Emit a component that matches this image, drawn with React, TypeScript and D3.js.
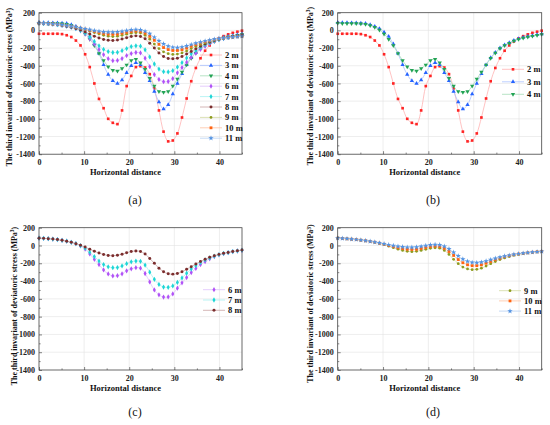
import * as React from "react";
import * as d3 from "d3";

// horizontal positions of the nodes
const xs = [
  0, 1.02, 2.05, 3.07, 4.09, 5.11, 6.14, 7.16, 8.18, 9.2, 10.23, 11.25, 12.27,
  13.3, 14.32, 15.34, 16.36, 17.39, 18.41, 19.43, 20.45, 21.48, 22.5, 23.52,
  24.55, 25.57, 26.59, 27.61, 28.64, 29.66, 30.68, 31.7, 32.73, 33.75, 34.77,
  35.8, 36.82, 37.84, 38.86, 39.89, 40.91, 41.93, 42.95, 43.98, 45,
];

const depths = ["2 m", "3 m", "4 m", "6 m", "7 m", "8 m", "9 m", "10 m", "11 m"];

const s2m = [
  -38, -38, -38, -38, -38, -42, -55, -75, -115, -170, -270, -415, -600, -775,
  -880, -1000, -1045, -1060, -905, -630, -515, -415, -405, -420, -495, -655,
  -905, -1145, -1255, -1245, -1165, -985, -770, -575, -425, -315, -230, -170,
  -125, -90, -65, -45, -28, -15, -3,
];
const s3m = [
  88, 87, 86, 85, 84, 82, 78, 65, 45, 20, -20, -70, -155, -260, -390, -500,
  -570, -600, -560, -480, -400, -365, -390, -480, -570, -690, -810, -890, -840,
  -720, -600, -490, -390, -310, -250, -200, -165, -140, -115, -95, -80, -70,
  -60, -50, -40,
];
const s4m = [
  80, 79, 78, 78, 77, 75, 70, 55, 35, 5, -40, -100, -170, -260, -340, -410,
  -450, -460, -430, -390, -340, -325, -365, -440, -540, -630, -690, -700, -690,
  -630, -550, -470, -390, -315, -255, -205, -170, -145, -120, -100, -85, -75,
  -65, -55, -45,
];
const s6m = [
  82, 80, 77, 72, 66, 58, 48, 36, 20, -5, -40, -95, -155, -215, -275, -320,
  -342, -340, -318, -285, -262, -250, -255, -315, -410, -500, -555, -580, -578,
  -545, -480, -420, -360, -305, -258, -215, -180, -150, -125, -105, -92, -80,
  -70, -62, -55,
];
const s7m = [
  82, 80, 77, 72, 66, 58, 48, 36, 20, -2, -30, -75, -125, -175, -215, -240,
  -250, -248, -230, -205, -183, -175, -178, -220, -300, -380, -438, -467, -470,
  -455, -415, -365, -312, -265, -225, -192, -162, -140, -120, -103, -90, -79,
  -69, -61, -53,
];
const s8m = [
  82, 80, 77, 72, 66, 58, 48, 36, 20, 3, -18, -42, -65, -85, -102, -112, -115,
  -110, -98, -82, -68, -62, -68, -95, -145, -200, -255, -295, -318, -322, -315,
  -295, -268, -238, -208, -180, -155, -133, -115, -100, -88, -78, -68, -60, -52,
];
const s9m = [
  82, 79, 75, 71, 66, 60, 53, 45, 36, 24, 10, -8, -25, -42, -56, -66, -70, -66,
  -56, -43, -32, -26, -30, -55, -100, -155, -205, -242, -263, -272, -268, -255,
  -232, -205, -180, -158, -140, -124, -110, -100, -92, -84, -78, -72, -67,
];
const s10m = [
  82, 79, 75, 71, 66, 60, 53, 45, 37, 26, 14, 1, -12, -25, -35, -42, -45, -42,
  -33, -22, -12, -7, -12, -32, -68, -112, -158, -194, -217, -227, -227, -218,
  -200, -180, -160, -142, -127, -115, -104, -95, -88, -82, -76, -71, -66,
];
const s11m = [
  83, 80, 76, 72, 67, 61, 54, 46, 38, 28, 18, 8, -2, -10, -16, -20, -21, -18,
  -11, -2, 6, 10, 6, -10, -38, -78, -118, -153, -178, -191, -194, -188, -175,
  -160, -145, -132, -120, -110, -100, -93, -87, -81, -76, -71, -66,
];

const seriesValues = [s2m, s3m, s4m, s6m, s7m, s8m, s9m, s10m, s11m];

const xTicks = [0, 10, 20, 30, 40];
const xMinor = [5, 15, 25, 35, 45];
const yTicks = [200, 0, -200, -400, -600, -800, -1000, -1200, -1400];
const yMinor = [100, -100, -300, -500, -700, -900, -1100, -1300];

const xTitle = "Horizontal distance";
const yTitle = "The third invariant of deviatoric stress (MPa";

const styles: Record<string, { dot: string; line: string; sym: d3.SymbolType; size: number }> = {
  "2 m": { dot: "#ff2424", line: "#ffb2b2", sym: d3.symbolSquare, size: 7 },
  "3 m": { dot: "#2563ff", line: "#abc2ff", sym: d3.symbolTriangle, size: 8 },
  "4 m": { dot: "#22a354", line: "#a6dcb8", sym: d3.symbolTriangle, size: 8 },
  "6 m": { dot: "#b152f7", line: "#dec0fb", sym: d3.symbolDiamond, size: 8 },
  "7 m": { dot: "#1ed6d6", line: "#a8f0f0", sym: d3.symbolDiamond, size: 8 },
  "8 m": { dot: "#7b2d2d", line: "#c9a3a3", sym: d3.symbolCircle, size: 7 },
  "9 m": { dot: "#8e9b1f", line: "#d2d9a1", sym: d3.symbolCircle, size: 6 },
  "10 m": { dot: "#ff6412", line: "#ffc3a2", sym: d3.symbolSquare, size: 8 },
  "11 m": { dot: "#5393e2", line: "#b9d2f2", sym: d3.symbolStar, size: 9 },
};

interface PanelProps {
  left: number;
  top: number;
  width: number;
  height: number;
  keys: string[];
  legendX: number;
  legendY: number;
  legendGap: number;
  label: string;
  labelX: number;
  labelY: number;
  titleX: number;
  titleY: number;
}

const FONT = "'Liberation Serif', 'Times New Roman', serif";

function Panel(p: PanelProps) {
  const ref = React.useRef<SVGGElement>(null);

  React.useEffect(() => {
    if (!ref.current) return;
    const g = d3.select(ref.current);
    g.selectAll("*").remove();

    const x = d3.scaleLinear().domain([0, 45]).range([p.left, p.left + p.width]);
    const y = d3.scaleLinear().domain([-1400, 200]).range([p.top + p.height, p.top]);

    // grid
    g.append("g")
      .selectAll("line")
      .data(xTicks.slice(1))
      .join("line")
      .attr("x1", (d) => x(d))
      .attr("x2", (d) => x(d))
      .attr("y1", p.top)
      .attr("y2", p.top + p.height)
      .attr("stroke", "#e2e2e2")
      .attr("stroke-width", 0.6);
    g.append("g")
      .selectAll("line")
      .data(yTicks.slice(1, -1))
      .join("line")
      .attr("x1", p.left)
      .attr("x2", p.left + p.width)
      .attr("y1", (d) => y(d))
      .attr("y2", (d) => y(d))
      .attr("stroke", "#e2e2e2")
      .attr("stroke-width", 0.6);

    // series
    p.keys.forEach((k) => {
      const vals = seriesValues[depths.indexOf(k)];
      const st = styles[k];
      const pts = xs.map((xv, i) => [xv, vals[i]] as [number, number]);
      g.append("path")
        .attr("fill", "none")
        .attr("stroke", st.line)
        .attr("stroke-width", 0.8)
        .attr(
          "d",
          d3
            .line<[number, number]>()
            .curve(d3.curveCatmullRom)
            .x((d) => x(d[0]))
            .y((d) => y(d[1]))(pts)
        );
      g.append("g")
        .selectAll("path")
        .data(pts)
        .join("path")
        .attr("transform", (d) => `translate(${x(d[0])},${y(d[1])})${k === "4 m" ? " rotate(180)" : ""}`)
        .attr("d", d3.symbol().type(st.sym).size(st.size)())
        .attr("fill", st.dot);
    });

    // axes
    const fmt = (d: d3.NumberValue) => String(d);
    const bottom = g
      .append("g")
      .attr("transform", `translate(0,${p.top + p.height})`)
      .call(d3.axisBottom(x).tickValues(xTicks).tickSize(-3).tickPadding(5).tickFormat(fmt));
    g.append("g")
      .attr("transform", `translate(0,${p.top + p.height})`)
      .call(d3.axisBottom(x).tickValues(xMinor).tickSize(-1.6).tickFormat(() => ""));
    const leftAx = g
      .append("g")
      .attr("transform", `translate(${p.left},0)`)
      .call(d3.axisLeft(y).tickValues(yTicks).tickSize(-3).tickPadding(4).tickFormat(fmt));
    g.append("g")
      .attr("transform", `translate(${p.left},0)`)
      .call(d3.axisLeft(y).tickValues(yMinor).tickSize(-1.6).tickFormat(() => ""));
    g.selectAll(".domain").remove();
    g.selectAll(".tick line").attr("stroke", "#333").attr("stroke-width", 0.6);
    [bottom, leftAx].forEach((a) =>
      a
        .selectAll("text")
        .attr("font-family", FONT)
        .attr("font-weight", "bold")
        .attr("font-size", 8)
        .attr("fill", "#222")
    );

    // frame
    g.append("rect")
      .attr("x", p.left)
      .attr("y", p.top)
      .attr("width", p.width)
      .attr("height", p.height)
      .attr("fill", "none")
      .attr("stroke", "#444")
      .attr("stroke-width", 0.8);

    // titles
    g.append("text")
      .attr("x", p.left + p.width / 2 - 15)
      .attr("y", p.top + p.height + 21)
      .attr("text-anchor", "middle")
      .attr("font-family", FONT)
      .attr("font-weight", "bold")
      .attr("font-size", 8.5)
      .attr("fill", "#111")
      .text(xTitle);
    const yt = g
      .append("text")
      .attr("transform", `translate(${p.titleX + 2.8},${p.titleY}) rotate(-90)`)
      .attr("text-anchor", "middle")
      .attr("font-family", FONT)
      .attr("font-weight", "bold")
      .attr("font-size", 8)
      .attr("fill", "#111");
    yt.append("tspan").text(yTitle);
    yt.append("tspan").attr("dy", -2.8).attr("font-size", 5.5).text("3");
    yt.append("tspan").attr("dy", 2.8).text(")");

    // legend
    p.keys.forEach((k, i) => {
      const st = styles[k];
      const ly = p.legendY + i * p.legendGap;
      const lg = g.append("g");
      lg.append("line")
        .attr("x1", p.legendX)
        .attr("x2", p.legendX + 22)
        .attr("y1", ly)
        .attr("y2", ly)
        .attr("stroke", st.line)
        .attr("stroke-width", 0.8);
      lg.append("path")
        .attr("transform", `translate(${p.legendX + 11},${ly})${k === "4 m" ? " rotate(180)" : ""}`)
        .attr("d", d3.symbol().type(st.sym).size(st.size)())
        .attr("fill", st.dot);
      lg.append("text")
        .attr("x", p.legendX + 25)
        .attr("y", ly + 3)
        .attr("font-family", FONT)
        .attr("font-weight", "bold")
        .attr("font-size", 8.5)
        .attr("fill", "#111")
        .text(k);
    });

    // panel label
    g.append("text")
      .attr("x", p.labelX)
      .attr("y", p.labelY)
      .attr("text-anchor", "middle")
      .attr("font-family", FONT)
      .attr("font-size", 12)
      .attr("fill", "#111")
      .text(p.label);
  }, []);

  return <g ref={ref} />;
}

export default function App() {
  return (
    <svg
      width={550}
      height={425}
      style={{ position: "absolute", left: 0, top: 0, background: "#fff" }}
    >
      <Panel left={39} top={12.7} width={203} height={141.5} keys={depths}
        legendX={200} legendY={55} legendGap={10.4} label="(a)" labelX={135} labelY={204}
        titleX={9.5} titleY={87} />
      <Panel left={337.7} top={12.7} width={204} height={141.5} keys={["2 m", "3 m", "4 m"]}
        legendX={502} legendY={69.3} legendGap={12.5} label="(b)" labelX={433} labelY={204}
        titleX={310} titleY={86} />
      <Panel left={39} top={227.7} width={203} height={142.3} keys={["6 m", "7 m", "8 m"]}
        legendX={203} legendY={289.7} legendGap={10.3} label="(c)" labelX={135} labelY={416}
        titleX={14} titleY={306} />
      <Panel left={337.7} top={227.7} width={204} height={142.3} keys={["9 m", "10 m", "11 m"]}
        legendX={499} legendY={290.7} legendGap={10.2} label="(d)" labelX={433} labelY={416}
        titleX={310.5} titleY={303.5} />
    </svg>
  );
}
